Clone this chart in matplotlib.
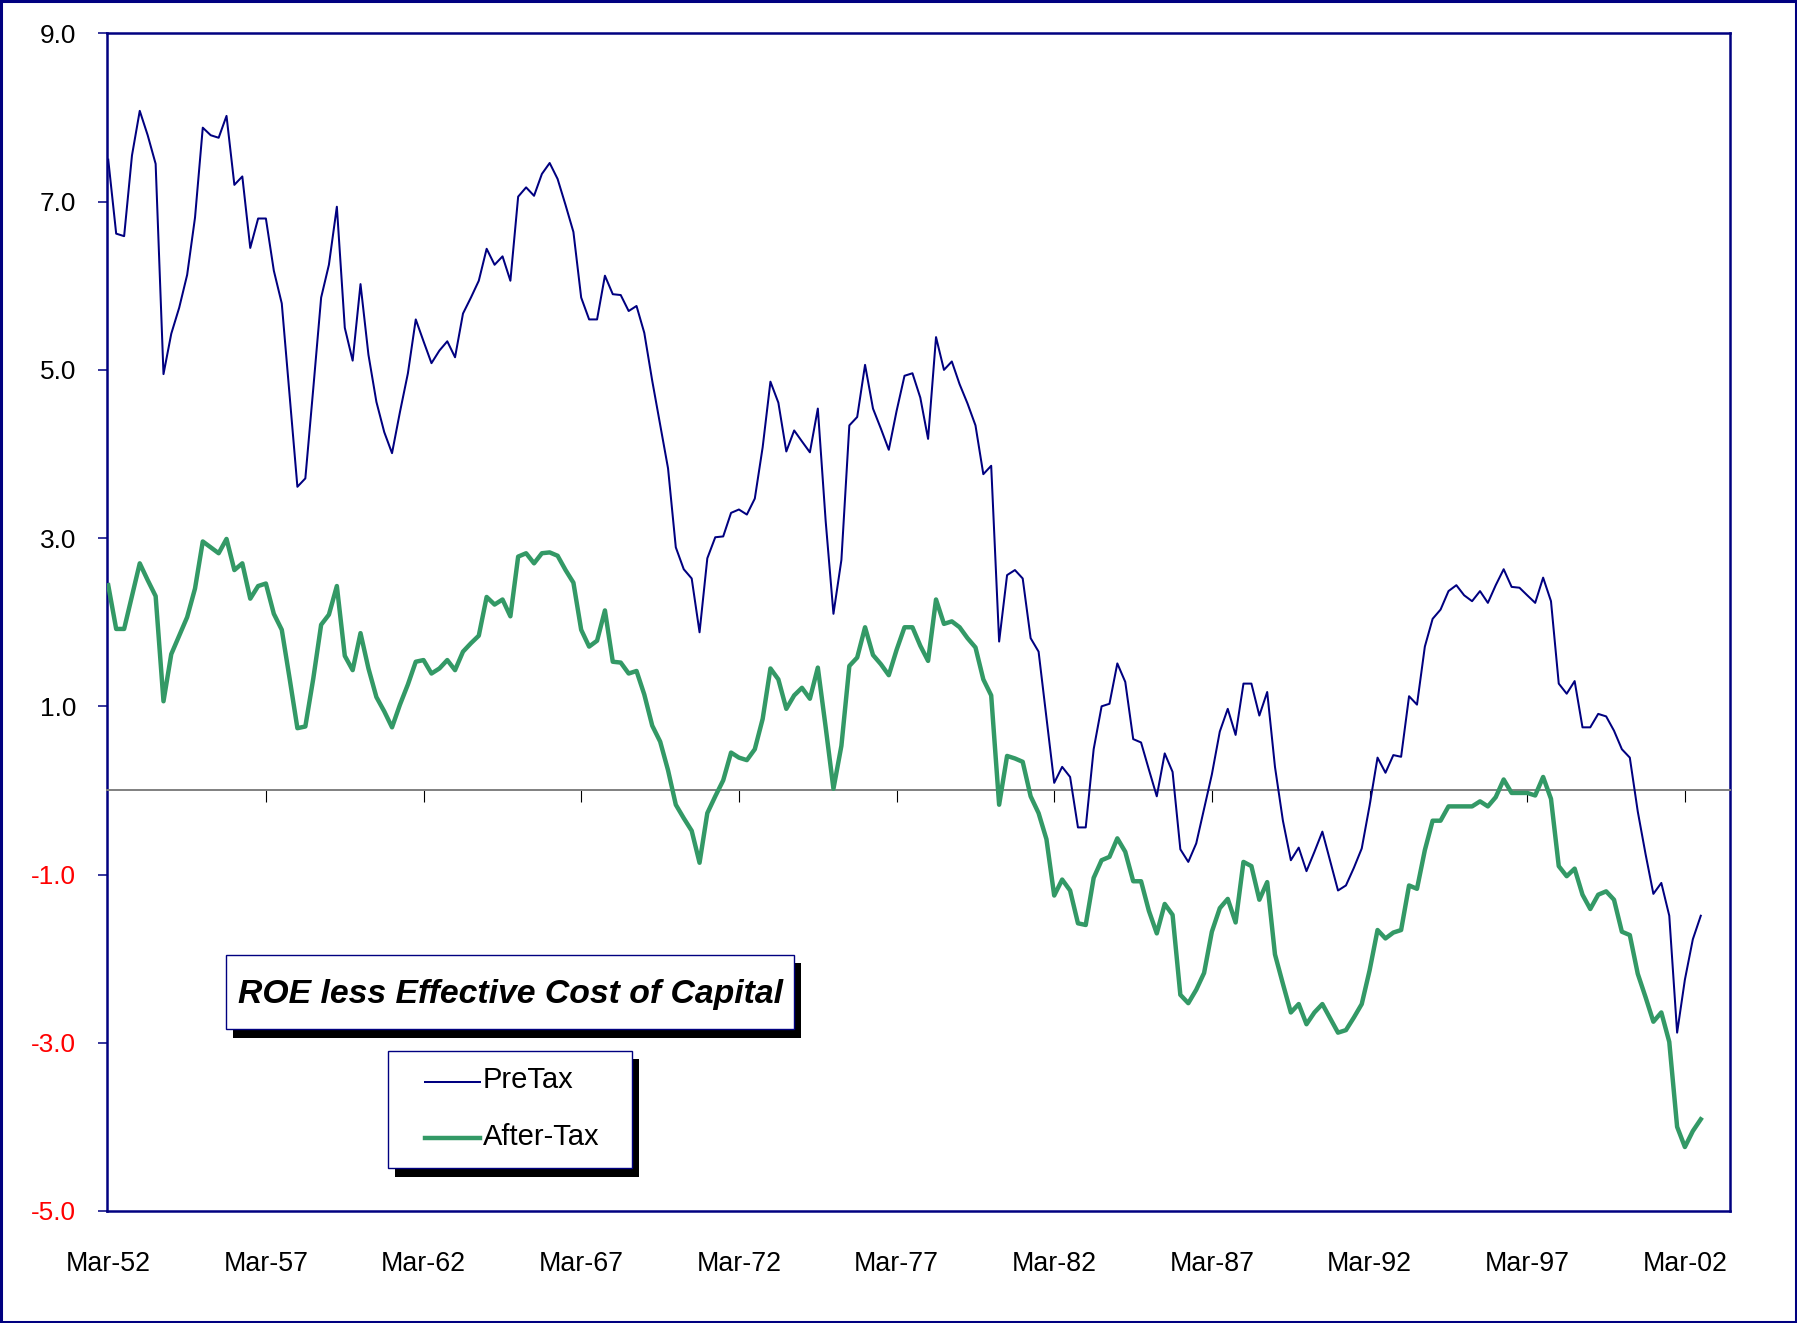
import numpy as np
import pandas as pd
import matplotlib
matplotlib.use('Agg')
import matplotlib.pyplot as plt
import matplotlib.dates as mdates
from matplotlib import font_manager
from matplotlib import patheffects as pe
from matplotlib.patches import Rectangle
from matplotlib.lines import Line2D

# quarterly values, Mar-52 .. Sep-02
pretax = [
    7.50, 6.62, 6.59, 7.55, 8.08, 7.79, 7.45, 4.95, 5.43, 5.74,
    6.13, 6.81, 7.88, 7.79, 7.76, 8.02, 7.20, 7.30, 6.45, 6.80,
    6.80, 6.18, 5.79, 4.70, 3.61, 3.71, 4.78, 5.86, 6.25, 6.94,
    5.50, 5.11, 6.02, 5.18, 4.62, 4.26, 4.01, 4.50, 4.96, 5.60,
    5.34, 5.08, 5.23, 5.34, 5.15, 5.67, 5.86, 6.06, 6.44, 6.25,
    6.35, 6.06, 7.06, 7.17, 7.07, 7.33, 7.46, 7.27, 6.96, 6.64,
    5.86, 5.60, 5.60, 6.12, 5.90, 5.89, 5.70, 5.76, 5.44, 4.87,
    4.35, 3.83, 2.89, 2.63, 2.52, 1.88, 2.76, 3.01, 3.02, 3.30,
    3.34, 3.28, 3.47, 4.08, 4.86, 4.61, 4.03, 4.28, 4.15, 4.02,
    4.54, 3.20, 2.10, 2.74, 4.34, 4.44, 5.06, 4.54, 4.30, 4.05,
    4.51, 4.93, 4.96, 4.67, 4.18, 5.39, 5.00, 5.10, 4.83, 4.60,
    4.34, 3.76, 3.86, 1.77, 2.56, 2.62, 2.52, 1.81, 1.65, 0.87,
    0.09, 0.28, 0.16, -0.44, -0.44, 0.49, 1.00, 1.03, 1.51, 1.29,
    0.61, 0.57, 0.25, -0.07, 0.44, 0.22, -0.70, -0.85, -0.63, -0.22,
    0.19, 0.70, 0.97, 0.66, 1.27, 1.27, 0.89, 1.17, 0.28, -0.36,
    -0.83, -0.68, -0.96, -0.73, -0.49, -0.84, -1.19, -1.13, -0.92, -0.69,
    -0.18, 0.39, 0.21, 0.42, 0.40, 1.12, 1.02, 1.71, 2.04, 2.15,
    2.37, 2.44, 2.32, 2.25, 2.37, 2.23, 2.44, 2.63, 2.42, 2.41,
    2.32, 2.23, 2.53, 2.25, 1.27, 1.15, 1.30, 0.75, 0.75, 0.91,
    0.88, 0.71, 0.49, 0.39, -0.25, -0.76, -1.23, -1.10, -1.49, -2.88,
    -2.25, -1.77, -1.49,
]
after_tax = [
    2.44, 1.92, 1.92, 2.31, 2.70, 2.50, 2.31, 1.06, 1.62, 1.84,
    2.06, 2.40, 2.96, 2.89, 2.82, 2.99, 2.62, 2.70, 2.28, 2.43,
    2.46, 2.10, 1.91, 1.33, 0.74, 0.76, 1.33, 1.97, 2.09, 2.43,
    1.60, 1.43, 1.87, 1.45, 1.11, 0.94, 0.75, 1.02, 1.26, 1.53,
    1.55, 1.39, 1.45, 1.55, 1.43, 1.65, 1.75, 1.84, 2.30, 2.21,
    2.27, 2.07, 2.78, 2.82, 2.70, 2.82, 2.83, 2.79, 2.62, 2.47,
    1.91, 1.71, 1.78, 2.14, 1.53, 1.52, 1.39, 1.42, 1.14, 0.77,
    0.58, 0.24, -0.17, -0.33, -0.48, -0.86, -0.27, -0.07, 0.12, 0.45,
    0.39, 0.36, 0.49, 0.85, 1.45, 1.32, 0.97, 1.13, 1.22, 1.09,
    1.46, 0.75, 0.02, 0.53, 1.48, 1.58, 1.94, 1.61, 1.50, 1.37,
    1.67, 1.94, 1.94, 1.72, 1.54, 2.27, 1.98, 2.01, 1.94, 1.81,
    1.70, 1.32, 1.13, -0.17, 0.41, 0.38, 0.34, -0.07, -0.27, -0.58,
    -1.25, -1.06, -1.19, -1.58, -1.60, -1.04, -0.83, -0.79, -0.57, -0.73,
    -1.08, -1.08, -1.43, -1.70, -1.35, -1.48, -2.43, -2.53, -2.37, -2.17,
    -1.68, -1.40, -1.29, -1.57, -0.85, -0.90, -1.30, -1.09, -1.95, -2.30,
    -2.64, -2.54, -2.78, -2.64, -2.54, -2.71, -2.88, -2.85, -2.70, -2.54,
    -2.14, -1.66, -1.76, -1.69, -1.66, -1.13, -1.17, -0.71, -0.36, -0.36,
    -0.19, -0.19, -0.19, -0.19, -0.13, -0.19, -0.08, 0.13, -0.03, -0.03,
    -0.03, -0.06, 0.16, -0.10, -0.90, -1.02, -0.93, -1.24, -1.41, -1.24,
    -1.20, -1.30, -1.68, -1.72, -2.18, -2.46, -2.75, -2.64, -2.99, -4.00,
    -4.24, -4.05, -3.91,
]
first_quarter = '1952-03-01'
tick_years = [1952, 1957, 1962, 1967, 1972, 1977, 1982, 1987, 1992, 1997, 2002]
yticks = [9.0, 7.0, 5.0, 3.0, 1.0, -1.0, -3.0, -5.0]
series_names = ['PreTax', 'After-Tax']
title = 'ROE less Effective Cost of Capital'

navy = '#000080'
green = '#339966'

# narrow sans if we have it, otherwise shrink the regular one
installed = {f.name for f in font_manager.fontManager.ttflist}
if 'Liberation Sans Narrow' in installed:
    plt.rcParams['font.family'] = ['Liberation Sans Narrow', 'DejaVu Sans']
    k = 1.0
else:
    plt.rcParams['font.family'] = ['Liberation Sans', 'DejaVu Sans']
    k = 0.82

dates = pd.date_range(first_quarter, periods=len(pretax), freq='3MS')
x = mdates.date2num(dates)
tick_dates = pd.to_datetime([f'{y}-03-01' for y in tick_years])
xt = mdates.date2num(tick_dates)

fig = plt.figure(figsize=(17.97, 13.23), dpi=100)
ax = fig.add_axes([0.0598, 0.0847, 0.9027, 0.8900])

ax.plot(x, pretax, color=navy, lw=1.45, zorder=3)
ax.plot(x, after_tax, color=green, lw=3.2, zorder=3)

ax.set_ylim(-5, 9)
x_end = mdates.date2num(dates[0] + pd.DateOffset(months=617))
ax.set_xlim(x[0] - 9, x_end)

for s in ['left', 'right', 'top']:
    ax.spines[s].set_color(navy)
    ax.spines[s].set_linewidth(1.8)
ax.spines['bottom'].set_position(('data', 0))
ax.spines['bottom'].set_color('#808080')
ax.spines['bottom'].set_linewidth(1.4)

ax.set_xticks(xt[1:])
ax.tick_params(axis='x', direction='out', length=8.4, width=0.8,
               color='black', labelbottom=False)

ax.set_yticks(yticks, labels=[f'{v:.1f}' for v in yticks])
ax.tick_params(axis='y', direction='out', length=6.3, width=1.1,
               color=navy, pad=16.4, labelsize=23 * k)
for lab, v in zip(ax.get_yticklabels(), yticks):
    lab.set_color('#ff0000' if v < 0 else 'black')

# date labels sit under the frame, not on the zero line
sec = ax.secondary_xaxis('bottom')
sec.set_xticks(xt, labels=[d.strftime('%b-%y') for d in tick_dates])
sec.tick_params(length=0, pad=29, labelsize=23.5 * k)
sec.spines['bottom'].set_color(navy)
sec.spines['bottom'].set_linewidth(1.8)

shadow = [pe.SimplePatchShadow(offset=(5, -6), shadow_rgbFace='black', alpha=1.0),
          pe.Normal()]

# title box
tbox = Rectangle((0.1256, 0.2220), 0.3163, 0.0562, transform=fig.transFigure,
                 fc='white', ec=navy, lw=1.0, zorder=5)
tbox.set_path_effects(shadow)
fig.add_artist(tbox)
fig.text(0.2842, 0.2416, title, ha='center', va='baseline', fontsize=29.6 * k,
         fontweight='bold', fontstyle='italic', zorder=6)

# legend box
lbox = Rectangle((0.2161, 0.1169), 0.1358, 0.0889, transform=fig.transFigure,
                 fc='white', ec=navy, lw=1.0, zorder=5)
lbox.set_path_effects(shadow)
fig.add_artist(lbox)
rows = [(0.1824, 0.1774, navy, 1.45), (0.1396, 0.1345, green, 3.2)]
for name, (ly, ty, c, w) in zip(series_names, rows):
    fig.add_artist(Line2D([0.2363, 0.2671], [ly, ly], transform=fig.transFigure,
                          color=c, lw=w, zorder=6))
    fig.text(0.2688, ty, name, fontsize=21, va='baseline', zorder=6)

# outer frame
fig.add_artist(Rectangle((0.0008, 0.0011), 0.9984, 0.9978, transform=fig.transFigure,
                         fill=False, ec=navy, lw=2.2))

fig.savefig('out.png', dpi=100)
